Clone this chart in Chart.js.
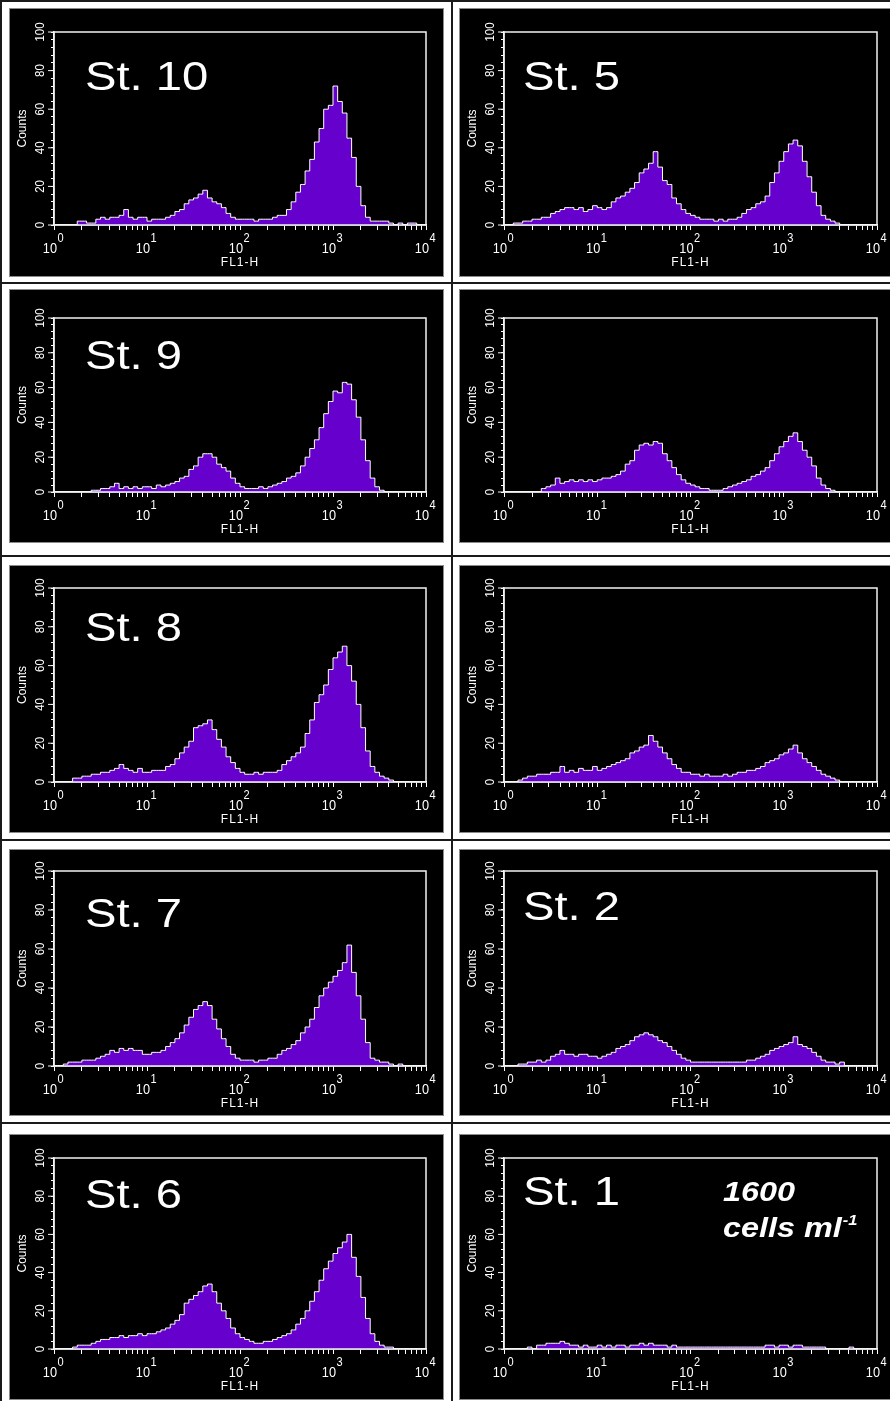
<!DOCTYPE html>
<html>
<head>
<meta charset="utf-8">
<script src="https://cdn.jsdelivr.net/npm/chart.js@4.4.1/dist/chart.umd.min.js"></script>
<style>
  html, body { margin: 0; padding: 0; background: #fff; }
  #page { position: relative; width: 890px; height: 1401px; overflow: hidden; background: #fff; }
  .rule { position: absolute; background: #1a1a1a; }
  .panel { position: absolute; background: #000; box-shadow: 0 0 0 1px #8a8a8a; }
  .panel canvas { display: block; }
</style>
</head>
<body>
<div id="page"></div>
<script>
// FL1-H axis split in 80 equal log bins (0.05 decade each), counts
const binLabels = Array.from({ length: 80 }, (_, i) => "ch" + i);

const st10 = [
  0, 0, 0, 0, 0, 2, 2, 1, 1, 3, 4, 3, 4, 4, 5, 8, 4, 3, 4, 4,
  2, 3, 3, 3, 4, 5, 7, 8, 11, 13, 14, 16, 18, 14, 12, 11, 9, 6, 4, 3,
  3, 3, 3, 2, 3, 3, 3, 4, 5, 5, 8, 12, 17, 21, 28, 34, 43, 50, 60, 62,
  72, 64, 58, 45, 35, 20, 10, 4, 2, 2, 2, 2, 1, 0, 1, 0, 1, 1, 0, 0
];
const st9 = [
  0, 0, 0, 0, 0, 0, 0, 0, 1, 1, 2, 2, 3, 5, 2, 3, 2, 3, 2, 3,
  3, 2, 4, 3, 4, 5, 6, 8, 9, 13, 15, 20, 22, 22, 20, 16, 14, 12, 8, 5,
  3, 2, 2, 2, 3, 2, 3, 4, 5, 6, 8, 9, 11, 15, 20, 25, 30, 37, 45, 52,
  58, 57, 63, 62, 53, 43, 30, 18, 8, 3, 1, 0, 0, 0, 0, 0, 0, 0, 0, 0
];
const st8 = [
  0, 0, 0, 0, 2, 2, 3, 3, 4, 4, 5, 5, 6, 7, 9, 7, 6, 5, 7, 5,
  5, 6, 6, 6, 8, 9, 12, 15, 18, 21, 28, 29, 30, 32, 27, 22, 18, 13, 10, 7,
  5, 4, 4, 5, 4, 5, 5, 5, 6, 9, 11, 13, 15, 18, 25, 32, 41, 45, 50, 58,
  64, 67, 70, 60, 52, 40, 28, 16, 8, 5, 3, 2, 1, 0, 0, 0, 0, 0, 0, 0
];
const st7 = [
  0, 0, 1, 2, 2, 2, 3, 3, 3, 4, 5, 6, 8, 7, 9, 8, 9, 8, 8, 6,
  6, 7, 7, 8, 10, 12, 14, 17, 21, 25, 29, 31, 33, 31, 24, 19, 14, 10, 6, 4,
  3, 3, 3, 2, 3, 3, 4, 4, 6, 8, 9, 11, 13, 17, 20, 24, 30, 36, 40, 43,
  46, 49, 53, 62, 48, 36, 24, 12, 4, 3, 2, 2, 1, 0, 1, 0, 0, 0, 0, 0
];
const st6 = [
  0, 0, 0, 0, 1, 2, 2, 2, 3, 4, 5, 5, 6, 6, 7, 6, 7, 7, 8, 7,
  8, 8, 9, 10, 11, 13, 15, 18, 24, 26, 28, 30, 33, 34, 30, 24, 20, 16, 11, 8,
  6, 5, 4, 3, 3, 4, 4, 5, 6, 7, 8, 10, 13, 16, 20, 25, 30, 36, 42, 46,
  50, 53, 56, 60, 48, 38, 27, 16, 8, 4, 2, 1, 1, 0, 0, 0, 0, 0, 0, 0
];
const st5 = [
  0, 0, 1, 1, 2, 2, 3, 3, 4, 4, 6, 7, 8, 9, 9, 8, 9, 7, 8, 10,
  9, 8, 9, 12, 14, 15, 17, 19, 22, 27, 29, 32, 38, 30, 23, 21, 14, 11, 8, 6,
  5, 4, 3, 3, 3, 2, 3, 2, 3, 3, 4, 6, 8, 9, 11, 12, 15, 22, 27, 33,
  38, 42, 44, 41, 33, 25, 17, 10, 5, 3, 2, 1, 0, 0, 0, 0, 0, 0, 0, 0
];
const st4 = [
  0, 0, 0, 0, 0, 0, 0, 0, 2, 3, 4, 8, 5, 6, 7, 6, 7, 6, 7, 6,
  7, 8, 8, 9, 10, 12, 16, 18, 24, 27, 28, 27, 29, 28, 22, 18, 14, 10, 7, 5,
  4, 3, 2, 2, 1, 1, 1, 2, 3, 4, 5, 6, 7, 9, 10, 12, 14, 18, 22, 26,
  29, 32, 34, 29, 24, 20, 15, 8, 4, 2, 1, 0, 0, 0, 0, 0, 0, 0, 0, 0
];
const st3 = [
  0, 0, 0, 1, 2, 3, 3, 4, 4, 4, 5, 5, 8, 5, 6, 5, 7, 6, 6, 8,
  6, 7, 8, 9, 10, 11, 12, 15, 16, 18, 19, 24, 21, 18, 15, 12, 9, 7, 5, 5,
  4, 4, 3, 4, 3, 3, 3, 4, 3, 4, 5, 5, 6, 6, 7, 8, 10, 11, 12, 14,
  15, 17, 19, 15, 12, 10, 8, 6, 4, 3, 2, 1, 0, 0, 0, 0, 0, 0, 0, 0
];
const st2 = [
  0, 0, 0, 1, 1, 2, 2, 3, 2, 3, 5, 6, 8, 6, 6, 5, 6, 6, 5, 5,
  4, 5, 6, 7, 9, 10, 11, 13, 15, 16, 17, 16, 15, 13, 12, 10, 8, 6, 4, 3,
  2, 2, 2, 2, 2, 2, 2, 2, 2, 2, 2, 2, 3, 3, 4, 5, 6, 8, 9, 10,
  11, 12, 15, 11, 10, 9, 7, 5, 3, 2, 2, 1, 2, 0, 0, 0, 0, 0, 0, 0
];
const st1 = [
  0, 0, 0, 0, 0, 1, 0, 2, 2, 3, 3, 3, 4, 3, 2, 2, 1, 2, 1, 1,
  2, 1, 2, 1, 2, 2, 1, 2, 2, 3, 2, 3, 2, 2, 2, 1, 2, 1, 1, 1,
  1, 1, 1, 1, 1, 1, 1, 1, 1, 1, 1, 1, 1, 1, 1, 1, 2, 2, 1, 2,
  2, 1, 2, 2, 1, 1, 1, 1, 1, 0, 0, 0, 0, 0, 1, 0, 0, 0, 0, 0
];

const countTicks = [0, 20, 40, 60, 80, 100];
const countMinorTicks = Array.from({ length: 26 }, (_, i) => i * 4);
const decadeExponents = [0, 1, 2, 3, 4];
const decadeSteps = [1, 2, 3, 4, 5, 6, 7, 8, 9];
const flTicks = [];
[1, 10, 100, 1000].forEach(d => decadeSteps.forEach(m => flTicks.push(d * m)));
flTicks.push(10000);

const PURPLE = "#6600cc";
const TICK_FONT = "'Liberation Sans Narrow', 'Liberation Sans', Arial, sans-serif";
const LABEL_FONT = "'Liberation Sans', Arial, sans-serif";

// page layout (pixels)
const columns = [
  { left: 10, width: 433, plotLeft: 44, plotRight: 416, textX: 75 },
  { left: 460, width: 430, plotLeft: 44, plotRight: 417, textX: 63 }
];
const rows = [
  { top: 9, height: 267, plotTop: 23, plotBottom: 216 },
  { top: 290, height: 252, plotTop: 28, plotBottom: 202 },
  { top: 566, height: 266, plotTop: 22, plotBottom: 216 },
  { top: 850, height: 265, plotTop: 21, plotBottom: 216 },
  { top: 1135, height: 264, plotTop: 23, plotBottom: 214 }
];

const panels = [
  { stage: "St. 10", data: st10, col: 0, row: 0, labelY: 81 },
  { stage: "St. 9", data: st9, col: 0, row: 1, labelY: 79 },
  { stage: "St. 8", data: st8, col: 0, row: 2, labelY: 75 },
  { stage: "St. 7", data: st7, col: 0, row: 3, labelY: 77 },
  { stage: "St. 6", data: st6, col: 0, row: 4, labelY: 73 },
  { stage: "St. 5", data: st5, col: 1, row: 0, labelY: 81 },
  { stage: "", data: st4, col: 1, row: 1, labelY: 0 },
  { stage: "", data: st3, col: 1, row: 2, labelY: 0 },
  { stage: "St. 2", data: st2, col: 1, row: 3, labelY: 70 },
  { stage: "St. 1", data: st1, col: 1, row: 4, labelY: 70, note: true }
];

const page = document.getElementById("page");

// table rules
function rule(x, y, w, h) {
  const d = document.createElement("div");
  d.className = "rule";
  d.style.left = x + "px"; d.style.top = y + "px";
  d.style.width = w + "px"; d.style.height = h + "px";
  page.appendChild(d);
}
rule(0, 0, 2, 1401);
rule(451, 0, 2, 1401);
rule(0, 0, 890, 2);
[282, 555, 839, 1122].forEach(y => rule(0, y, 890, 2));

function stretchText(ctx, text, x, y, sx) {
  ctx.save();
  ctx.translate(x, y);
  ctx.scale(sx, 1);
  ctx.fillText(text, 0, 0);
  ctx.restore();
}

const facsDecor = {
  id: "facsDecor",
  afterDatasetsDraw(chart, args, opts) {
    const { ctx, chartArea: a } = chart;
    const xs = chart.scales.xLog;
    const ys = chart.scales.y;
    ctx.save();
    ctx.strokeStyle = "#f2f2f2";
    ctx.fillStyle = "#fff";
    ctx.lineWidth = 1.5;
    ctx.strokeRect(a.left, a.top, a.right - a.left, a.bottom - a.top);

    // labelled counts: longer mark + rotated number
    ctx.lineWidth = 1;
    ctx.font = "13px " + TICK_FONT;
    ctx.textAlign = "center";
    ctx.textBaseline = "middle";
    countTicks.forEach(v => {
      const y = ys.getPixelForValue(v);
      ctx.beginPath();
      ctx.moveTo(a.left - 6, y);
      ctx.lineTo(a.left, y);
      ctx.stroke();
      ctx.save();
      ctx.translate(a.left - 14, y);
      ctx.rotate(-Math.PI / 2);
      ctx.scale(0.88, 1);
      ctx.fillText(String(v), 0, 0);
      ctx.restore();
    });

    // decade labels 10^n
    ctx.textBaseline = "alphabetic";
    decadeExponents.forEach(e => {
      const x = xs.getPixelForValue(Math.pow(10, e));
      ctx.font = "15px " + TICK_FONT;
      ctx.textAlign = "right";
      stretchText(ctx, "10", x + 3, a.bottom + 28, 0.85);
      ctx.font = "13px " + TICK_FONT;
      ctx.textAlign = "left";
      stretchText(ctx, String(e), x + 3.5, a.bottom + 17, 0.85);
    });

    ctx.font = "12px " + TICK_FONT;
    ctx.textAlign = "center";
    ctx.letterSpacing = "1px";
    ctx.fillText("FL1-H", (a.left + a.right) / 2, a.bottom + 41);
    ctx.letterSpacing = "0px";

    ctx.textAlign = "left";
    if (opts.stage) {
      ctx.font = "40px " + LABEL_FONT;
      stretchText(ctx, opts.stage, opts.stageX, opts.stageY, 1.18);
    }
    if (opts.note) {
      ctx.font = "italic bold 27px " + LABEL_FONT;
      stretchText(ctx, "1600", 263, 66, 1.2);
      stretchText(ctx, "cells ml", 263, 102, 1.2);
      const w = ctx.measureText("cells ml").width * 1.2;
      ctx.font = "italic bold 15px " + LABEL_FONT;
      stretchText(ctx, "-1", 263 + w + 1, 90, 1.1);
    }
    ctx.restore();
  }
};

Chart.defaults.color = "#fff";
Chart.defaults.font.family = TICK_FONT;

panels.forEach(p => {
  const col = columns[p.col];
  const row = rows[p.row];
  const box = document.createElement("div");
  box.className = "panel";
  box.style.left = col.left + "px";
  box.style.top = row.top + "px";
  box.style.width = col.width + "px";
  box.style.height = row.height + "px";
  const cv = document.createElement("canvas");
  cv.width = col.width;
  cv.height = row.height;
  cv.style.width = col.width + "px";
  cv.style.height = row.height + "px";
  box.appendChild(cv);
  page.appendChild(box);

  new Chart(cv, {
    type: "line",
    data: {
      labels: binLabels,
      datasets: [
        {
          data: p.data,
          stepped: "middle",
          fill: "origin",
          backgroundColor: PURPLE,
          borderColor: "#ffffff",
          borderWidth: 1,
          pointRadius: 0,
          xAxisID: "x",
          yAxisID: "y",
        },
      ],
    },
    options: {
      responsive: false,
      animation: false,
      devicePixelRatio: 1,
      layout: {
        padding: { top: row.plotTop, right: col.width - col.plotRight, left: 0, bottom: 0 },
      },
      scales: {
        x: { type: "category", display: false, offset: true },
        xLog: {
          type: "logarithmic",
          position: "bottom",
          min: 1,
          max: 10000,
          afterBuildTicks: s => { s.ticks = flTicks.map(v => ({ value: v })); },
          afterFit: s => { s.height = row.height - row.plotBottom; },
          ticks: { display: false, autoSkip: false },
          grid: { drawOnChartArea: false, drawTicks: true, tickLength: 5, tickColor: "#ffffff", color: "#ffffff" },
          border: { color: "#ffffff", width: 1.5 },
        },
        y: {
          min: 0,
          max: 100,
          afterBuildTicks: s => { s.ticks = countMinorTicks.map(v => ({ value: v })); },
          afterFit: s => { s.width = col.plotLeft; },
          ticks: { display: false },
          grid: { drawOnChartArea: false, drawTicks: true, tickLength: 3, tickColor: "#ffffff", color: "#ffffff" },
          border: { color: "#ffffff", width: 1.5 },
          title: {
            display: true,
            text: "Counts",
            color: "#ffffff",
            font: { size: 12, family: TICK_FONT },
            padding: { top: 5, bottom: 0 },
          },
        },
      },
      plugins: {
        legend: { display: false },
        tooltip: { enabled: false },
        facsDecor: { stage: p.stage, stageX: col.textX, stageY: p.labelY, note: !!p.note },
      },
    },
    plugins: [facsDecor],
  });
});
</script>
</body>
</html>
